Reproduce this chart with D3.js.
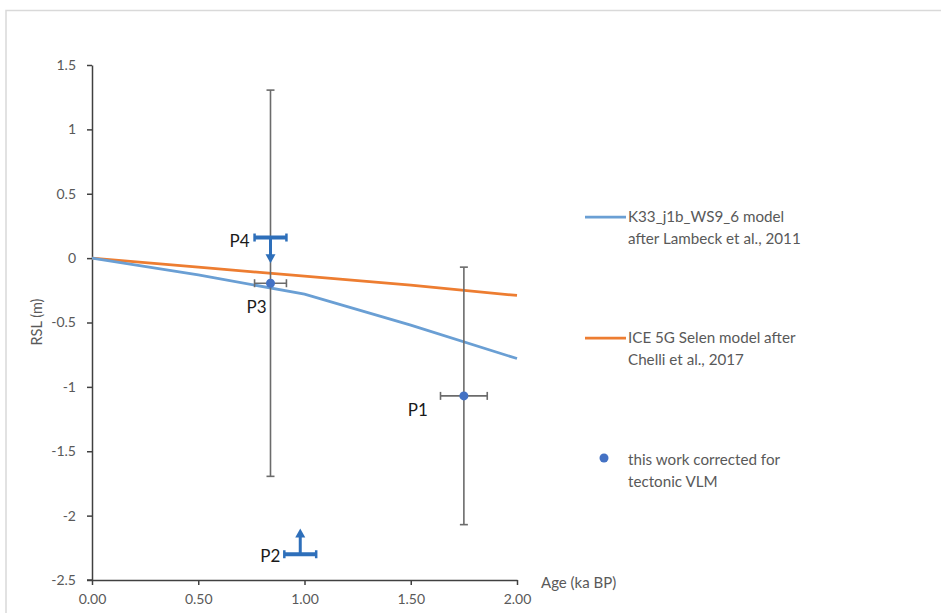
<!DOCTYPE html>
<html>
<head>
<meta charset="utf-8">
<script src="https://cdn.jsdelivr.net/npm/d3@7"></script>
<style>
  body { margin: 0; background: #fff; }
  svg { display: block; }
  text { font-family: Lato, "Open Sans", sans-serif; }
</style>
</head>
<body>
<svg id="chart" width="941" height="613"></svg>
<script>
// ---- data ----
const modelAges = [0, 0.5, 1, 1.5, 2];
const k33Values = [0, -0.13, -0.28, -0.52, -0.78];
const ice5gValues = [0, -0.07, -0.14, -0.21, -0.29];

const sampleNames = ["P1", "P3"];
const sampleAge = [1.75, 0.84];
const sampleRSL = [-1.07, -0.195];
const sampleAgeErr = [0.11, 0.075];
const sampleRSLErr = [1.0, 1.5];

const limitNames = ["P4", "P2"];
const limitAge = [0.84, 0.98];
const limitRSL = [0.16, -2.3];
const limitAgeErr = [0.075, 0.075];
const limitDir = [-1, 1];       // -1 = arrow down, +1 = arrow up
const limitArrowLen = 0.2;

const xTicks = [0, 0.5, 1, 1.5, 2];
const yTicks = [1.5, 1, 0.5, 0, -0.5, -1, -1.5, -2, -2.5];

const legendLabels = [
  ["K33_j1b_WS9_6 model", "after Lambeck et al., 2011"],
  ["ICE 5G Selen model after", "Chelli et al., 2017"],
  ["this work corrected for", "tectonic VLM"]
];

// ---- colours ----
const cBlueLine = "#6a9fd4";
const cOrange = "#ed7d31";
const cDot = "#4472c4";
const cLimit = "#2e6fba";
const cErr = "#6b6b6b";
const cText = "#595959";

const svg = d3.select("#chart");

// frame
svg.append("path").attr("d", "M6,613 V10.5 H941").attr("fill", "none")
  .attr("stroke", "#d9d9d9").attr("stroke-width", 1.5);

const x = d3.scaleLinear().domain([0, 2]).range([92, 517]);
const y = d3.scaleLinear().domain([-2.5, 1.5]).range([580, 65]);

// axes
const gx = svg.append("g").attr("transform", `translate(0,${y(-2.5)})`)
  .call(d3.axisBottom(x).tickValues(xTicks).tickFormat(d3.format(".2f")).tickSizeInner(5).tickSizeOuter(0).tickPadding(9));
const gy = svg.append("g").attr("transform", `translate(${x(0)},0)`)
  .call(d3.axisLeft(y).tickValues(yTicks).tickFormat(d => String(d)).tickSizeInner(5).tickSizeOuter(0).tickPadding(11));
[gx, gy].forEach(g => {
  g.select(".domain").attr("stroke", "#404040").attr("stroke-width", 1.5);
  g.selectAll(".tick line").attr("stroke", "#404040").attr("stroke-width", 1.5);
  g.selectAll(".tick text").attr("fill", cText).attr("font-size", 14)
    .attr("font-family", "Lato, 'Open Sans', sans-serif");
});
svg.append("line").attr("x1", x(0) - 5).attr("x2", x(0)).attr("y1", y(-2.5)).attr("y2", y(-2.5))
  .attr("stroke", "#404040").attr("stroke-width", 1.5);

svg.append("text").attr("x", 541).attr("y", y(-2.5) + 8).attr("fill", cText)
  .attr("font-size", 15).text("Age (ka BP)");
svg.append("text").attr("transform", `translate(42,322) rotate(-90)`).attr("text-anchor", "middle")
  .attr("fill", cText).attr("font-size", 14.5).text("RSL (m)");

// model lines
const line = d3.line().x((d, i) => x(modelAges[i])).y(d => y(d));
svg.append("path").datum(ice5gValues).attr("d", line).attr("fill", "none")
  .attr("stroke", cOrange).attr("stroke-width", 2.75);
svg.append("path").datum(k33Values).attr("d", line).attr("fill", "none")
  .attr("stroke", cBlueLine).attr("stroke-width", 2.75);

// error bars for samples
const cap = 4;
sampleNames.forEach((name, i) => {
  const cx = x(sampleAge[i]), cy = y(sampleRSL[i]);
  const g = svg.append("g").attr("stroke", cErr).attr("stroke-width", 1.6);
  const x0 = x(sampleAge[i] - sampleAgeErr[i]), x1 = x(sampleAge[i] + sampleAgeErr[i]);
  const y0 = y(sampleRSL[i] + sampleRSLErr[i]), y1 = y(sampleRSL[i] - sampleRSLErr[i]);
  g.append("line").attr("x1", x0).attr("x2", x1).attr("y1", cy).attr("y2", cy);
  g.append("line").attr("x1", x0).attr("x2", x0).attr("y1", cy - cap).attr("y2", cy + cap);
  g.append("line").attr("x1", x1).attr("x2", x1).attr("y1", cy - cap).attr("y2", cy + cap);
  g.append("line").attr("x1", cx).attr("x2", cx).attr("y1", y0).attr("y2", y1);
  g.append("line").attr("x1", cx - cap).attr("x2", cx + cap).attr("y1", y0).attr("y2", y0);
  g.append("line").attr("x1", cx - cap).attr("x2", cx + cap).attr("y1", y1).attr("y2", y1);
  svg.append("circle").attr("cx", cx).attr("cy", cy).attr("r", 4.5).attr("fill", cDot);
});

// limiting points (bars with arrows)
limitNames.forEach((name, i) => {
  const cx = x(limitAge[i]), cy = y(limitRSL[i]);
  const x0 = x(limitAge[i] - limitAgeErr[i]), x1 = x(limitAge[i] + limitAgeErr[i]);
  const tip = y(limitRSL[i] + limitDir[i] * limitArrowLen);
  const g = svg.append("g").attr("stroke", cLimit);
  g.append("line").attr("x1", x0).attr("x2", x1).attr("y1", cy).attr("y2", cy).attr("stroke-width", 4);
  g.append("line").attr("x1", x0).attr("x2", x0).attr("y1", cy - 4).attr("y2", cy + 4).attr("stroke-width", 2.5);
  g.append("line").attr("x1", x1).attr("x2", x1).attr("y1", cy - 4).attr("y2", cy + 4).attr("stroke-width", 2.5);
  const headLen = 9;
  const dir = tip < cy ? -1 : 1;
  g.append("line").attr("x1", cx).attr("x2", cx).attr("y1", cy).attr("y2", tip - dir * headLen + dir * 1)
    .attr("stroke-width", 3);
  svg.append("path")
    .attr("d", `M${cx},${tip} L${cx - 5},${tip - dir * headLen} L${cx + 5},${tip - dir * headLen} Z`)
    .attr("fill", cLimit);
});

// point labels
const labelFont = 17, labelColor = "#1a1a1a";
function label(txt, px, py, anchor) {
  svg.append("text").attr("x", px).attr("y", py).attr("text-anchor", anchor)
    .attr("font-size", labelFont).attr("fill", labelColor).text(txt);
}
label(sampleNames[0], x(sampleAge[0]) - 36, y(sampleRSL[0]) + 20, "end");
label(sampleNames[1], x(sampleAge[1]) - 14, y(sampleRSL[1]) + 30, "middle");
label(limitNames[0], x(limitAge[0] - limitAgeErr[0]) - 5, y(limitRSL[0]) + 9, "end");
label(limitNames[1], x(limitAge[1] - limitAgeErr[1]) - 4, y(limitRSL[1]) + 8, "end");

// legend
const legY = [217, 338, 460];
const lg = svg.append("g");
legendLabels.forEach((lines, i) => {
  const yy = legY[i];
  if (i < 2) {
    lg.append("line").attr("x1", 585).attr("x2", 626).attr("y1", yy).attr("y2", yy)
      .attr("stroke", i === 0 ? cBlueLine : cOrange).attr("stroke-width", 2.75);
  } else {
    lg.append("circle").attr("cx", 604).attr("cy", yy - 2).attr("r", 4.5).attr("fill", cDot);
  }
  lines.forEach((t, j) => {
    lg.append("text").attr("x", 628).attr("y", yy + 5 + j * 22).attr("fill", cText)
      .attr("font-size", 15.2).text(t);
  });
});
</script>
</body>
</html>
